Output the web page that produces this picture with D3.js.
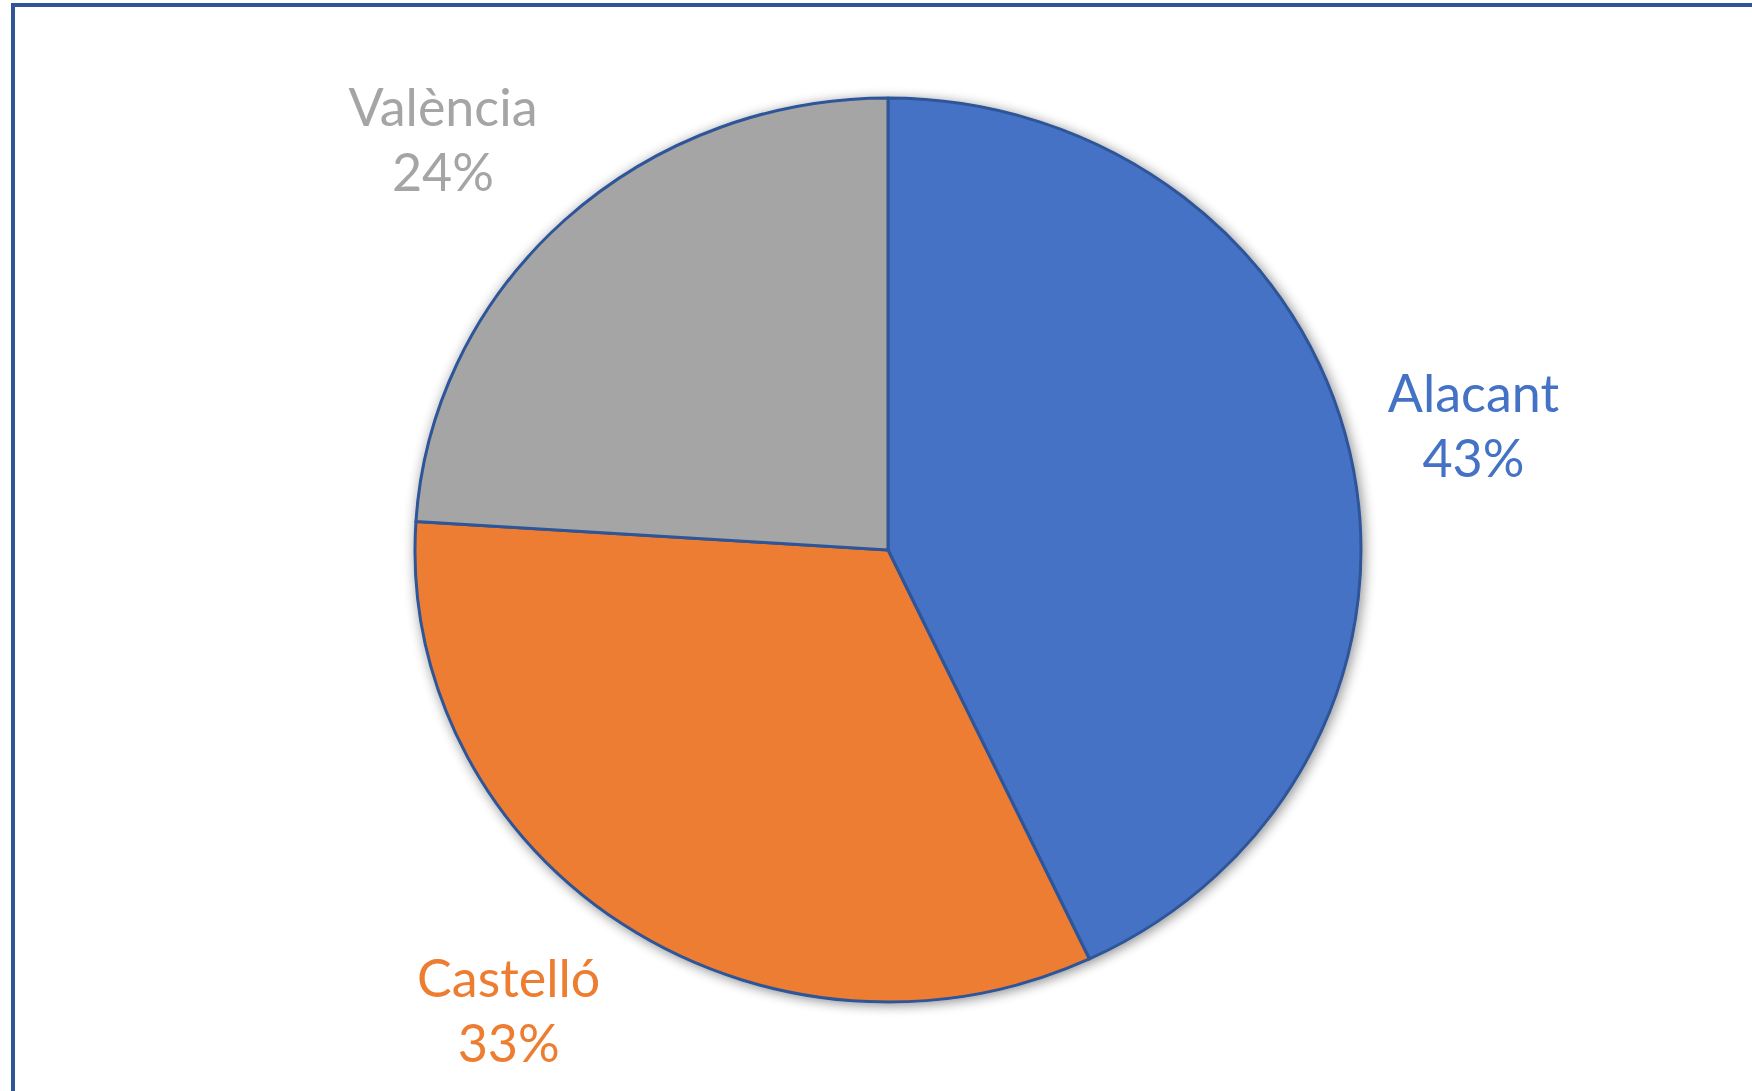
<!DOCTYPE html>
<html>
<head>
<meta charset="utf-8">
<script src="https://cdn.jsdelivr.net/npm/d3@7"></script>
<style>
  html, body { margin: 0; padding: 0; background: #fff; }
  svg { display: block; }
</style>
</head>
<body>
<div id="chart"></div>
<script>
var categories = ["Alacant", "Castelló", "València"];
var values = [43, 33, 24];
var colors = ["#4472C4", "#ED7D31", "#A5A5A5"];

var width = 1752, height = 1091;
var cx = 888, cy = 550;
var radius = 452, stretch = 473 / 452;
// labels sit just outside the pie: inner edge of the text block on this ellipse
var labelRx = 512, labelRy = 560;

var svg = d3.select("#chart").append("svg")
    .attr("width", width)
    .attr("height", height);

var defs = svg.append("defs");
var shadow = defs.append("filter")
    .attr("id", "shadow")
    .attr("x", "-10%").attr("y", "-10%")
    .attr("width", "120%").attr("height", "120%");
shadow.append("feGaussianBlur").attr("in", "SourceAlpha").attr("stdDeviation", 6).attr("result", "blur");
shadow.append("feOffset").attr("dx", 2).attr("dy", 2).attr("result", "off");
shadow.append("feComponentTransfer").append("feFuncA").attr("type", "linear").attr("slope", 0.45);
var merge = shadow.append("feMerge");
merge.append("feMergeNode");
merge.append("feMergeNode").attr("in", "SourceGraphic");

svg.append("rect")
    .attr("x", 13).attr("y", 5)
    .attr("width", width + 20).attr("height", height + 20)
    .attr("fill", "#fff")
    .attr("stroke", "#2F5597")
    .attr("stroke-width", 4);

var data = values.map(function (v, i) {
    return { name: categories[i], value: v, color: colors[i] };
});

var pie = d3.pie().sort(null).value(function (d) { return d.value; });
var arcs = pie(data);
var arc = d3.arc().innerRadius(0).outerRadius(radius);

var g = svg.append("g")
    .attr("transform", "translate(" + cx + "," + cy + ") scale(" + stretch + ",1)")
    .attr("filter", "url(#shadow)");

g.selectAll("path")
    .data(arcs)
    .enter()
    .append("path")
    .attr("d", arc)
    .attr("fill", function (d) { return d.data.color; })
    .attr("stroke", "#2F5597")
    .attr("stroke-width", 3)
    .attr("stroke-linejoin", "round")
    .attr("vector-effect", "non-scaling-stroke");

var total = d3.sum(values);
var labels = svg.append("g")
    .selectAll("text")
    .data(arcs)
    .enter()
    .append("text")
    .attr("font-family", "Lato, 'Open Sans', sans-serif")
    .attr("font-size", 52)
    .attr("text-anchor", "middle")
    .attr("fill", function (d) { return d.data.color; });

labels.append("tspan")
    .attr("x", 0).attr("y", -16)
    .text(function (d) { return d.data.name; });

labels.append("tspan")
    .attr("x", 0).attr("y", 49)
    .text(function (d) { return Math.round(d.data.value / total * 100) + "%"; });

labels.attr("transform", function (d) {
    var a = (d.startAngle + d.endAngle) / 2;
    var w = this.getBBox().width;
    var side = Math.sin(a) >= 0 ? 1 : -1;
    var x = cx + labelRx * Math.sin(a) + side * w / 2;
    var y = cy - labelRy * Math.cos(a);
    return "translate(" + x + "," + y + ")";
});
</script>
</body>
</html>
